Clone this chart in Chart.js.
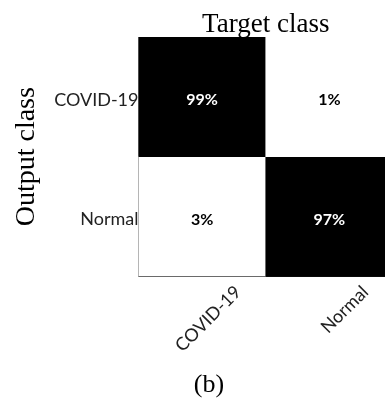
<!DOCTYPE html>
<html>
<head>
<meta charset="utf-8">
<script src="https://cdn.jsdelivr.net/npm/chart.js@4.4.1/dist/chart.umd.min.js"></script>
<style>
  html, body { margin: 0; padding: 0; background: #fff; overflow: hidden; }
  #wrap { width: 418px; height: 404px; }
</style>
</head>
<body>
<div id="wrap"><canvas id="cm"></canvas></div>
<script>
// Confusion matrix: columns = target class, rows = output class
const targetClasses = ['COVID-19', 'Normal'];
const outputClasses = ['COVID-19', 'Normal'];
// percentage per cell, one array per output row (left to right by target class)
const covidRowPercent = [99, 1];
const normalRowPercent = [3, 97];
const rowPercents = [covidRowPercent, normalRowPercent];

// each output row occupies one unit band on the y scale (top row first)
const rowBand = i => [outputClasses.length - 1 - i, outputClasses.length - i];

const datasets = outputClasses.map((name, i) => ({
  label: name,
  data: rowPercents[i].map(() => rowBand(i)),
  percents: rowPercents[i],
  backgroundColor: ctx => (ctx.dataset.percents[ctx.dataIndex] >= 50 ? '#000000' : '#ffffff'),
  borderWidth: 0,
  borderSkipped: false,
  barPercentage: 1,
  categoryPercentage: 1,
  grouped: false
}));

const cellText = {
  id: 'cellText',
  afterDatasetsDraw(chart) {
    const ctx = chart.ctx;
    ctx.save();
    ctx.font = 'bold 16px Lato';
    ctx.textAlign = 'center';
    ctx.textBaseline = 'middle';
    chart.data.datasets.forEach((ds, di) => {
      const meta = chart.getDatasetMeta(di);
      meta.data.forEach((bar, j) => {
        const v = ds.percents[j];
        ctx.fillStyle = v >= 50 ? '#ffffff' : '#000000';
        ctx.fillText(v + '%', bar.x, (bar.y + bar.base) / 2 + 3);
      });
    });
    ctx.restore();
  }
};

new Chart(document.getElementById('cm'), {
  type: 'bar',
  data: { labels: targetClasses, datasets },
  plugins: [cellText],
  options: {
    responsive: true,
    maintainAspectRatio: false,
    animation: false,
    layout: { padding: 0 },
    plugins: {
      legend: { display: false },
      tooltip: { enabled: false },
      title: {
        display: true,
        text: '(b)',
        position: 'bottom',
        color: '#000',
        font: { family: 'Liberation Serif', size: 26, weight: 'normal' },
        padding: { top: 0, bottom: 3 }
      }
    },
    scales: {
      x: {
        type: 'category',
        position: 'bottom',
        grid: { display: false, drawTicks: false },
        border: { display: true, color: '#111', width: 2 },
        ticks: {
          autoSkip: false,
          minRotation: 45,
          maxRotation: 45,
          labelOffset: 36,
          padding: 5,
          color: '#222',
          font: { family: 'Lato', size: 18 }
        },
        afterFit: s => { s.height = 93.4; }
      },
      xTop: {
        type: 'linear',
        position: 'top',
        grid: { display: false, drawTicks: false },
        border: { display: true, color: '#808080', width: 1 },
        ticks: { display: false },
        title: {
          display: true,
          text: 'Target class',
          color: '#000',
          font: { family: 'Liberation Serif', size: 27 },
          padding: { top: 9, bottom: 0 }
        },
        afterFit: s => { s.height = 37; }
      },
      y: {
        type: 'linear',
        min: 0,
        max: outputClasses.length,
        grid: { display: false, drawTicks: false },
        border: { display: true, color: '#808080', width: 1 },
        afterBuildTicks: s => {
          s.ticks = outputClasses.map((_, i) => ({ value: outputClasses.length - 0.5 - i }));
        },
        ticks: {
          padding: 0,
          labelOffset: 3,
          color: '#222',
          font: { family: 'Lato', size: 18 },
          callback: v => outputClasses[Math.round(outputClasses.length - 0.5 - v)]
        },
        title: {
          display: true,
          text: 'Output class',
          color: '#000',
          font: { family: 'Liberation Serif', size: 28 },
          padding: { top: 10, bottom: 0 }
        },
        afterFit: s => { s.width = 138.5; }
      },
      yRight: {
        type: 'linear',
        position: 'right',
        grid: { display: false, drawTicks: false },
        border: { display: false },
        ticks: { display: false },
        afterFit: s => { s.width = 25; }
      }
    }
  }
});
</script>
</body>
</html>
